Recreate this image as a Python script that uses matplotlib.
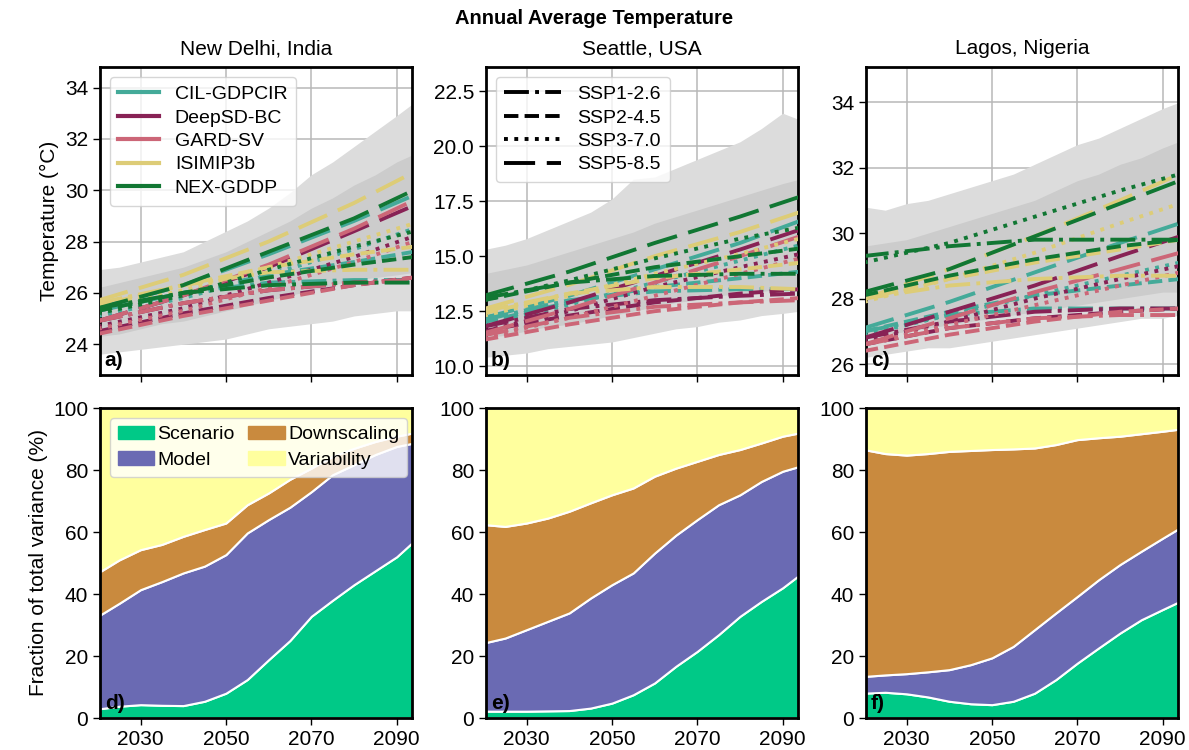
import matplotlib
matplotlib.use('Agg')
import matplotlib.pyplot as plt
from matplotlib.lines import Line2D
from matplotlib.patches import Patch

plt.rcParams['font.family'] = ['Liberation Sans', 'DejaVu Sans']
plt.rcParams['font.size'] = 15

cities = ['New Delhi, India', 'Seattle, USA', 'Lagos, Nigeria']
methods = ['CIL-GDPCIR', 'DeepSD-BC', 'GARD-SV', 'ISIMIP3b', 'NEX-GDDP']
method_colors = ['#44aa99', '#882255', '#cc6677', '#ddcc77', '#117733']
scenarios = ['SSP1-2.6', 'SSP2-4.5', 'SSP3-7.0', 'SSP5-8.5']

# years at which the trend lines were read
line_years = [2020, 2040, 2060, 2080, 2094]

# trend values [method][scenario] -> 5 values
delhi_lines = {
  'CIL-GDPCIR': [[25.3, 26.0, 26.4, 26.5, 26.5], [25.3, 26.0, 26.7, 27.2, 27.6],
                 [25.1, 25.8, 26.7, 27.7, 28.5], [25.4, 26.3, 27.5, 28.8, 29.8]],
  'DeepSD-BC': [[24.9, 25.6, 26.1, 26.4, 26.5], [24.5, 25.2, 25.8, 26.3, 26.6],
                [24.7, 25.4, 26.4, 27.4, 28.2], [24.9, 25.9, 27.0, 28.4, 29.4]],
  'GARD-SV': [[24.9, 25.6, 26.1, 26.4, 26.5], [24.4, 25.1, 25.7, 26.3, 26.6],
              [24.6, 25.3, 26.2, 27.2, 28.0], [24.9, 25.9, 27.1, 28.5, 29.6]],
  'ISIMIP3b': [[25.6, 26.3, 26.8, 26.9, 26.9], [25.5, 26.3, 27.0, 27.5, 27.8],
               [25.4, 26.1, 27.0, 28.0, 28.7], [25.7, 26.7, 28.0, 29.5, 30.7]],
  'NEX-GDDP': [[25.4, 26.0, 26.3, 26.4, 26.4], [25.3, 26.0, 26.6, 27.1, 27.4],
               [25.2, 25.9, 26.9, 27.8, 28.4], [25.4, 26.3, 27.6, 28.9, 30.0]],
}
seattle_lines = {
  'CIL-GDPCIR': [[12.1, 13.0, 13.4, 13.5, 13.5], [12.0, 12.9, 13.6, 14.0, 14.3],
                 [11.9, 12.8, 13.8, 14.8, 15.5], [12.2, 13.2, 14.4, 15.6, 16.6]],
  'DeepSD-BC': [[11.8, 12.6, 13.0, 13.2, 13.3], [11.6, 12.3, 12.9, 13.3, 13.5],
                [11.6, 12.5, 13.6, 14.5, 15.1], [11.8, 12.9, 14.1, 15.3, 16.2]],
  'GARD-SV': [[11.4, 12.2, 12.7, 12.9, 13.0], [11.2, 11.9, 12.5, 12.9, 13.1],
              [11.3, 12.2, 13.2, 14.2, 14.9], [11.5, 12.6, 13.8, 15.0, 15.9]],
  'ISIMIP3b': [[12.5, 13.3, 13.6, 13.6, 13.5], [12.4, 13.3, 14.0, 14.4, 14.7],
               [12.3, 13.2, 14.2, 15.1, 15.8], [12.6, 13.7, 15.0, 16.1, 17.0]],
  'NEX-GDDP': [[13.1, 13.8, 14.1, 14.2, 14.2], [13.0, 13.8, 14.5, 15.0, 15.35],
               [13.0, 13.9, 14.9, 15.8, 16.3], [13.2, 14.3, 15.6, 16.8, 17.7]],
}
lagos_lines = {
  'CIL-GDPCIR': [[27.0, 27.5, 27.7, 27.7, 27.7], [27.0, 27.6, 28.1, 28.4, 28.6],
                 [26.9, 27.5, 28.1, 28.7, 29.1], [27.1, 27.9, 28.8, 29.7, 30.3]],
  'DeepSD-BC': [[26.8, 27.3, 27.6, 27.7, 27.7], [26.6, 27.1, 27.4, 27.6, 27.7],
                [26.7, 27.3, 28.0, 28.6, 29.0], [26.8, 27.6, 28.4, 29.3, 29.9]],
  'GARD-SV': [[26.6, 27.1, 27.4, 27.5, 27.5], [26.4, 26.9, 27.3, 27.6, 27.7],
              [26.6, 27.2, 27.8, 28.4, 28.8], [26.6, 27.4, 28.2, 28.9, 29.4]],
  'ISIMIP3b': [[28.0, 28.4, 28.6, 28.7, 28.7], [28.0, 28.6, 29.1, 29.5, 29.8],
               [27.9, 28.6, 29.4, 30.3, 30.9], [28.0, 28.9, 29.9, 31.0, 31.8]],
  'NEX-GDDP': [[29.3, 29.6, 29.8, 29.8, 29.8], [28.1, 28.7, 29.2, 29.6, 29.8],
               [29.1, 29.7, 30.5, 31.3, 31.8], [28.2, 28.9, 29.9, 30.9, 31.6]],
}

# spread of the raw ensemble members (outer and dense inner envelope)
env_years = [2020, 2025, 2030, 2035, 2040, 2045, 2050, 2055, 2060, 2065, 2070, 2075, 2080, 2085, 2090, 2094]
delhi_env = {
  'lo': [23.6, 23.7, 23.8, 23.9, 24.0, 24.1, 24.2, 24.4, 24.6, 24.7, 24.8, 24.9, 25.1, 25.2, 25.3, 25.3],
  'hi': [26.9, 27.0, 27.2, 27.4, 27.6, 28.0, 28.4, 28.8, 29.3, 29.9, 30.6, 31.1, 31.7, 32.3, 32.9, 33.4],
  'in_lo': [24.3, 24.4, 24.6, 24.8, 24.9, 25.1, 25.3, 25.5, 25.7, 25.9, 26.1, 26.3, 26.5, 26.6, 26.7, 26.8],
  'in_hi': [26.2, 26.4, 26.6, 26.8, 27.0, 27.3, 27.6, 28.0, 28.4, 28.8, 29.3, 29.7, 30.2, 30.6, 31.1, 31.4],
}
seattle_env = {
  'lo': [10.4, 10.5, 10.6, 10.8, 10.9, 11.0, 11.1, 11.3, 11.5, 11.7, 11.8, 12.0, 12.1, 12.3, 12.4, 12.5],
  'hi': [15.3, 15.5, 15.8, 16.2, 16.6, 17.0, 17.6, 18.5, 18.6, 19.0, 19.4, 19.8, 20.2, 20.8, 21.5, 21.2],
  'in_lo': [11.3, 11.4, 11.6, 11.8, 11.9, 12.1, 12.3, 12.5, 12.7, 12.9, 13.0, 13.2, 13.3, 13.4, 13.5, 13.6],
  'in_hi': [14.2, 14.4, 14.6, 14.9, 15.2, 15.5, 15.8, 16.1, 16.5, 16.8, 17.1, 17.4, 17.7, 18.0, 18.3, 18.5],
}
lagos_env = {
  'lo': [26.2, 26.3, 26.4, 26.5, 26.5, 26.6, 26.7, 26.8, 26.9, 27.0, 27.1, 27.2, 27.3, 27.4, 27.4, 27.5],
  'hi': [30.8, 30.7, 30.9, 31.0, 31.2, 31.4, 31.6, 31.8, 32.1, 32.4, 32.7, 32.9, 33.2, 33.5, 33.8, 34.0],
  'in_lo': [26.8, 26.9, 27.0, 27.1, 27.2, 27.3, 27.4, 27.5, 27.6, 27.7, 27.8, 27.9, 28.0, 28.1, 28.2, 28.2],
  'in_hi': [29.6, 29.7, 29.8, 30.0, 30.2, 30.4, 30.6, 30.8, 31.0, 31.3, 31.6, 31.8, 32.1, 32.3, 32.6, 32.8],
}

# variance fractions (%) by source
var_years = env_years
delhi_var = {
  'Scenario':    [2.9, 3.8, 4.3, 4.1, 4.0, 5.4, 8.0, 12.4, 18.8, 25.0, 32.8, 38.0, 43.0, 47.5, 52.0, 57.0],
  'Model':       [29.9, 33.2, 37.1, 39.9, 42.8, 43.6, 44.7, 47.3, 45.2, 43.0, 40.2, 40.5, 38.7, 37.5, 35.6, 31.7],
  'Downscaling': [14.0, 14.0, 12.9, 12.0, 11.8, 11.8, 10.2, 9.1, 8.6, 9.0, 7.6, 5.9, 5.3, 4.2, 3.3, 3.3],
  'Variability': [53.2, 49.0, 45.7, 44.0, 41.4, 39.2, 37.1, 31.2, 27.4, 23.0, 19.4, 15.6, 13.0, 10.8, 9.1, 8.0],
}
seattle_var = {
  'Scenario':    [2.2, 2.2, 2.2, 2.3, 2.4, 3.2, 4.8, 7.5, 11.3, 16.7, 21.5, 26.9, 32.8, 37.6, 42.0, 46.2],
  'Model':       [22.0, 23.6, 26.3, 28.9, 31.5, 35.5, 38.2, 39.3, 41.9, 42.3, 42.5, 41.9, 39.2, 38.7, 37.6, 35.0],
  'Downscaling': [38.2, 36.0, 34.4, 33.3, 32.8, 30.7, 29.0, 27.4, 24.8, 21.6, 18.8, 16.2, 14.6, 12.4, 11.3, 10.8],
  'Variability': [37.6, 38.2, 37.1, 35.5, 33.3, 30.6, 28.0, 25.8, 22.0, 19.4, 17.2, 15.0, 13.4, 11.3, 9.1, 8.0],
}
lagos_var = {
  'Scenario':    [8.0, 8.3, 7.8, 6.8, 5.4, 4.6, 4.3, 5.4, 8.0, 12.4, 17.7, 22.6, 27.4, 31.7, 35.0, 37.6],
  'Model':       [5.4, 5.6, 6.5, 8.1, 10.2, 12.6, 15.1, 17.7, 20.5, 21.5, 21.5, 22.0, 22.1, 22.1, 23.0, 23.7],
  'Downscaling': [73.2, 71.4, 70.5, 70.4, 70.4, 69.1, 67.2, 63.7, 58.6, 54.3, 50.6, 45.8, 41.4, 37.9, 34.5, 31.9],
  'Variability': [13.4, 14.7, 15.2, 14.7, 14.0, 13.7, 13.4, 13.2, 12.9, 11.8, 10.2, 9.6, 9.1, 8.3, 7.5, 6.8],
}
sources = ['Scenario', 'Model', 'Downscaling', 'Variability']
source_colors = ['#00c987', '#6a6ab3', '#c98a3e', '#ffff9e']

temp_ylims = [(22.8, 34.8), (9.6, 23.6), (25.67, 35.07)]
temp_yticks = [[24, 26, 28, 30, 32, 34], [10.0, 12.5, 15.0, 17.5, 20.0, 22.5], [26, 28, 30, 32, 34]]

line_styles = ['-.', '--', ':', (0, (8, 3))]

fig = plt.figure(figsize=(11.89, 7.5), dpi=100)
W, H = 1189, 750
lefts = [100, 486, 866]
width = 312
top_axes = [fig.add_axes([l / W, 1 - 375 / H, width / W, 308 / H]) for l in lefts]
bot_axes = [fig.add_axes([l / W, 1 - 718 / H, width / W, 310 / H]) for l in lefts]

all_lines = [delhi_lines, seattle_lines, lagos_lines]
all_env = [delhi_env, seattle_env, lagos_env]
all_var = [delhi_var, seattle_var, lagos_var]

for i, ax in enumerate(top_axes):
  env = all_env[i]
  ax.fill_between(env_years, env['lo'], env['hi'], color='#dcdcdc', lw=0, zorder=1)
  ax.fill_between(env_years, env['in_lo'], env['in_hi'], color='#cccccc', lw=0, zorder=1)
  for m, c in zip(methods, method_colors):
    for s, ls in enumerate(line_styles):
      ax.plot(line_years, all_lines[i][m][s], color=c, ls=ls, lw=2.8, zorder=3)
  ax.set_xlim(2020.5, 2093.6)
  ax.set_ylim(*temp_ylims[i])
  ax.set_yticks(temp_yticks[i])
  if i == 1:
    ax.set_yticklabels(['%.1f' % t for t in temp_yticks[i]])
  ax.set_xticks([2030, 2050, 2070, 2090])
  ax.set_xticklabels([])
  ax.grid(True, color='#b8b8b8', lw=1.1, zorder=0)
  ax.set_axisbelow(True)
  ax.set_title(cities[i], fontsize=15, pad=9)
  ax.text(0.015, 0.015, 'abc'[i] + ')', transform=ax.transAxes, fontsize=15,
          fontweight='bold', va='bottom', ha='left', zorder=5)

top_axes[0].set_ylabel('Temperature (°C)', fontsize=15)
h1 = [Line2D([0], [0], color=c, lw=3) for c in method_colors]
top_axes[0].legend(h1, methods, loc='upper left', fontsize=14, framealpha=0.8,
                   handlelength=2.1, borderpad=0.45, labelspacing=0.3,
                   handletextpad=0.8)
h2 = [Line2D([0], [0], color='black', lw=2.8, ls=ls) for ls in line_styles]
top_axes[1].legend(h2, scenarios, loc='upper left', fontsize=14, framealpha=0.8,
                   handlelength=2.9, borderpad=0.45, labelspacing=0.3,
                   handletextpad=0.85)

for i, ax in enumerate(bot_axes):
  v = all_var[i]
  ax.stackplot(var_years, *[v[s] for s in sources], colors=source_colors,
               edgecolor='white', linewidth=1.5)
  ax.set_xlim(2020.5, 2093.6)
  ax.set_ylim(0, 100)
  ax.set_xticks([2030, 2050, 2070, 2090])
  ax.set_yticks([0, 20, 40, 60, 80, 100])
  ax.text(0.015, 0.015, 'def'[i] + ')', transform=ax.transAxes, fontsize=15,
          fontweight='bold', va='bottom', ha='left', zorder=5)

bot_axes[0].set_ylabel('Fraction of total variance (%)', fontsize=15)
h3 = [Patch(color=c) for c in source_colors]
bot_axes[0].legend(h3, sources, loc='upper left', ncol=2, fontsize=14, framealpha=0.8,
                   handlelength=1.9, columnspacing=0.7, handletextpad=0.15,
                   borderpad=0.4, labelspacing=0.42)

for ax in top_axes + bot_axes:
  for sp in ax.spines.values():
    sp.set_linewidth(2.0)
  ax.tick_params(direction='out', length=5, width=1.0, labelsize=15)

fig.text(0.5, 1 - 18 / H, 'Annual Average Temperature', ha='center', va='center',
         fontsize=14.5, fontweight='bold')

fig.savefig('out.png', dpi=100)
